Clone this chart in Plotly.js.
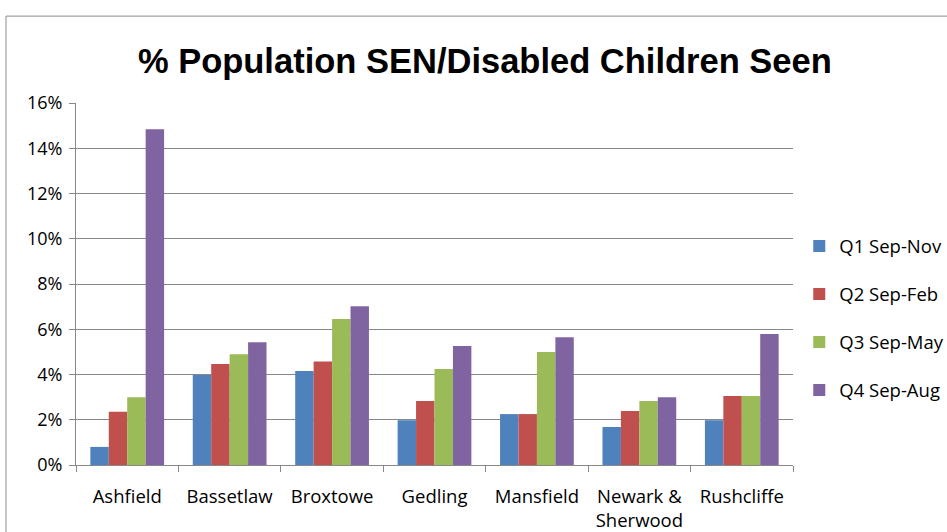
<!DOCTYPE html>
<html>
<head>
<meta charset="utf-8">
<script src="https://cdn.plot.ly/plotly-3.0.1.min.js"></script>
<style>
  html, body { margin: 0; padding: 0; background: #fff; }
  #chart { width: 947px; height: 532px; }
</style>
</head>
<body>
<div id="chart"></div>
<script>
// Districts shown along the x axis
const districts = ["Ashfield", "Bassetlaw", "Broxtowe", "Gedling", "Mansfield", "Newark &<br>Sherwood", "Rushcliffe"];

// Cumulative % of SEN/disabled child population seen, per quarter
const q1SepNov = [0.80, 3.98, 4.15, 1.98, 2.25, 1.68, 1.98];
const q2SepFeb = [2.35, 4.46, 4.58, 2.83, 2.25, 2.39, 3.05];
const q3SepMay = [3.00, 4.90, 6.45, 4.24, 5.00, 2.83, 3.05];
const q4SepAug = [14.84, 5.43, 7.02, 5.26, 5.65, 3.00, 5.79];

const seriesNames = ["Q1 Sep-Nov", "Q2 Sep-Feb", "Q3 Sep-May", "Q4 Sep-Aug"];
const seriesValues = [q1SepNov, q2SepFeb, q3SepMay, q4SepAug];
const seriesColors = ["#4F81BD", "#C0504D", "#9BBB59", "#8064A2"];

const traces = seriesNames.map((name, i) => ({
  type: "bar",
  name: name,
  x: districts,
  y: seriesValues[i],
  legendgroup: "g" + i,
  marker: { color: seriesColors[i], line: { width: 0 } },
  hovertemplate: "%{x}: %{y:.1f}%<extra>" + name + "</extra>"
}));

const gridGrey = "#888888";

const layout = {
  width: 947,
  height: 532,
  paper_bgcolor: "#ffffff",
  plot_bgcolor: "#ffffff",
  margin: { l: 76, r: 154, t: 103, b: 67, autoexpand: false },
  font: { family: "Open Sans, Liberation Sans, sans-serif", color: "#000000", size: 16 },
  title: {
    text: "<b>% Population SEN/Disabled Children Seen</b>",
    font: { family: "Liberation Sans, Arial, sans-serif", size: 34.5, color: "#000000" },
    xref: "container",
    x: 0.512,
    xanchor: "center",
    yref: "container",
    y: 0.885,
    yanchor: "middle"
  },
  barmode: "group",
  bargap: 0.28,
  bargroupgap: 0,
  xaxis: {
    type: "category",
    showgrid: false,
    showline: true,
    linecolor: gridGrey,
    linewidth: 1,
    ticks: "outside",
    tickson: "boundaries",
    ticklen: 6,
    tickcolor: gridGrey,
    tickangle: 0,
    ticklabelstandoff: 15,
    tickfont: { size: 18.5 },
    automargin: false,
    zeroline: false
  },
  yaxis: {
    range: [0, 16],
    dtick: 2,
    tick0: 0,
    ticksuffix: "%",
    showgrid: true,
    gridcolor: gridGrey,
    gridwidth: 1,
    showline: true,
    linecolor: gridGrey,
    linewidth: 1,
    ticks: "outside",
    ticklen: 6,
    tickcolor: gridGrey,
    ticklabelstandoff: 3,
    tickfont: { size: 18 },
    automargin: false,
    zeroline: false,
    fixedrange: true
  },
  legend: {
    xref: "container",
    x: 0.844,
    xanchor: "left",
    yref: "paper",
    y: 0.405,
    yanchor: "middle",
    traceorder: "grouped",
    tracegroupgap: 21,
    itemwidth: 30,
    font: { size: 18.5 },
    bgcolor: "rgba(0,0,0,0)"
  },
  shapes: [{
    type: "rect",
    xref: "paper", yref: "paper",
    x0: -0.0976, x1: 2.0,
    y0: -1.0, y1: 1.240,
    line: { color: "#8c8c8c", width: 1 },
    fillcolor: "rgba(0,0,0,0)",
    layer: "below"
  }],
  showlegend: true
};

Plotly.newPlot("chart", traces, layout, { displayModeBar: false, staticPlot: true });
</script>
</body>
</html>
